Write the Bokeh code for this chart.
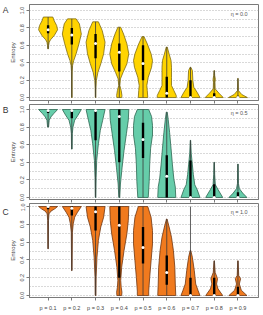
import numpy as np
from bokeh.plotting import figure
from bokeh.layouts import column
from bokeh.models import Range1d, FixedTicker, Label
from bokeh.embed import file_html
from bokeh.resources import INLINE

categories = ["p = 0.1", "p = 0.2", "p = 0.3", "p = 0.4", "p = 0.5",
              "p = 0.6", "p = 0.7", "p = 0.8", "p = 0.9"]
panel_letters = ["A", "B", "C"]
eta_labels = ["η = 0.0", "η = 0.5", "η = 1.0"]
y_ticks = [0.0, 0.2, 0.4, 0.6, 0.8, 1.0]
grid_levels = [0.0, 0.1, 0.2, 0.3, 0.4, 0.5, 0.6, 0.7, 0.8, 0.9, 1.0]

# ---- Panel A: density profiles (entropy level, relative width) ----
A_y = [
    [0.56, 0.60, 0.636, 0.663, 0.713, 0.778, 0.828, 0.88, 0.925],
    [0.0, 0.1, 0.2, 0.3, 0.368, 0.425, 0.502, 0.617, 0.73, 0.847, 0.904],
    [0.0, 0.1, 0.195, 0.29, 0.387, 0.502, 0.636, 0.77, 0.87],
    [0.0, 0.023, 0.08, 0.138, 0.214, 0.29, 0.387, 0.502, 0.617, 0.73, 0.808],
    [0.0, 0.08, 0.138, 0.233, 0.348, 0.425, 0.502, 0.617, 0.70],
    [0.0, 0.023, 0.08, 0.138, 0.233, 0.348, 0.425, 0.5, 0.58],
    [0.0, 0.06, 0.118, 0.195, 0.31, 0.348],
    [0.0, 0.05, 0.1, 0.176, 0.21, 0.255, 0.31],
    [0.0, 0.035, 0.08, 0.22],
]
A_w = [
    [0.04, 0.06, 0.12, 0.25, 0.65, 1.0, 0.9, 0.65, 0.5],
    [0.03, 0.03, 0.03, 0.04, 0.08, 0.2, 0.45, 0.75, 1.0, 0.8, 0.45],
    [0.03, 0.04, 0.08, 0.25, 0.55, 0.85, 1.0, 0.7, 0.3],
    [0.25, 0.28, 0.2, 0.06, 0.12, 0.4, 0.8, 1.0, 0.8, 0.45, 0.15],
    [0.5, 0.45, 0.4, 0.55, 0.9, 1.0, 0.85, 0.45, 0.1],
    [1.0, 1.0, 0.75, 0.5, 0.5, 0.5, 0.45, 0.25, 0.05],
    [1.0, 0.7, 0.35, 0.25, 0.2, 0.04],
    [0.95, 0.5, 0.1, 0.08, 0.12, 0.05, 0.02],
    [1.0, 0.4, 0.05, 0.02],
]
A_med = [0.78, 0.72, 0.62, 0.52, 0.39, 0.05, 0.0, 0.0, 0.0]
A_q1 = [0.74, 0.61, 0.45, 0.30, 0.20, 0.0, 0.0, 0.0, 0.0]
A_q3 = [0.83, 0.80, 0.73, 0.62, 0.60, 0.24, 0.20, 0.05, 0.02]
A_lo = [0.56, 0.0, 0.0, 0.0, 0.0, 0.0, 0.0, 0.0, 0.0]
A_hi = [0.925, 0.904, 0.87, 0.808, 0.70, 0.58, 0.348, 0.31, 0.22]

# ---- Panel B ----
B_y = [
    [0.80, 0.878, 0.916, 0.954, 1.0],
    [0.55, 0.725, 0.80, 0.878, 0.935, 1.0],
    [0.0, 0.23, 0.42, 0.61, 0.763, 0.878, 1.0],
    [0.0, 0.153, 0.344, 0.534, 0.725, 0.878, 1.0],
    [0.0, 0.18, 0.37, 0.56, 0.71, 0.82, 0.92, 1.0],
    [0.0, 0.12, 0.21, 0.37, 0.56, 0.74, 0.89, 0.97],
    [0.0, 0.09, 0.145, 0.26, 0.37, 0.5, 0.65],
    [0.0, 0.09, 0.145, 0.26, 0.40],
    [0.0, 0.05, 0.1, 0.16, 0.38],
]
B_w = [
    [0.05, 0.12, 0.3, 0.6, 1.0],
    [0.03, 0.05, 0.12, 0.3, 0.65, 1.0],
    [0.03, 0.06, 0.12, 0.3, 0.5, 0.75, 1.0],
    [0.05, 0.12, 0.3, 0.5, 0.75, 0.95, 1.0],
    [0.55, 0.65, 0.7, 0.8, 1.0, 1.0, 0.9, 0.6],
    [0.95, 0.9, 0.75, 0.6, 0.45, 0.3, 0.15, 0.05],
    [1.0, 0.7, 0.45, 0.3, 0.2, 0.08, 0.02],
    [0.9, 0.4, 0.12, 0.05, 0.02],
    [0.95, 0.5, 0.15, 0.05, 0.02],
]
B_med = [0.99, 0.99, 0.99, 0.92, 0.66, 0.24, 0.0, 0.0, 0.0]
B_q1 = [0.96, 0.90, 0.65, 0.40, 0.45, 0.0, 0.0, 0.0, 0.0]
B_q3 = [1.0, 1.0, 1.0, 1.0, 0.85, 0.48, 0.42, 0.15, 0.06]
B_lo = [0.80, 0.55, 0.0, 0.0, 0.0, 0.0, 0.0, 0.0, 0.0]
B_hi = [1.0, 1.0, 1.0, 1.0, 1.0, 0.97, 0.65, 0.40, 0.38]

# ---- Panel C ----
C_y = [
    [0.525, 0.843, 0.918, 0.948, 0.974, 1.0],
    [0.28, 0.712, 0.805, 0.88, 0.936, 1.0],
    [0.0, 0.21, 0.43, 0.62, 0.77, 0.88, 1.0],
    [0.0, 0.037, 0.094, 0.17, 0.318, 0.506, 0.693, 0.843, 1.0],
    [0.0, 0.05, 0.2, 0.39, 0.58, 0.73, 0.88, 1.0],
    [0.0, 0.13, 0.318, 0.506, 0.655, 0.77, 0.86],
    [0.0, 0.056, 0.13, 0.28, 0.43, 0.506],
    [0.0, 0.075, 0.13, 0.19, 0.26, 0.39],
    [0.0, 0.06, 0.13, 0.19, 0.225, 0.39],
]
C_w = [
    [0.02, 0.04, 0.1, 0.3, 0.7, 1.0],
    [0.02, 0.06, 0.15, 0.3, 0.6, 1.0],
    [0.04, 0.06, 0.15, 0.3, 0.55, 0.85, 1.0],
    [0.25, 0.28, 0.2, 0.15, 0.25, 0.5, 0.8, 0.95, 1.0],
    [0.6, 0.6, 0.7, 0.85, 1.0, 1.0, 0.85, 0.5],
    [0.95, 0.9, 0.85, 0.7, 0.5, 0.25, 0.03],
    [1.0, 0.8, 0.55, 0.4, 0.2, 0.03],
    [0.9, 0.4, 0.25, 0.35, 0.1, 0.02],
    [0.95, 0.35, 0.15, 0.28, 0.08, 0.02],
]
C_med = [1.0, 0.98, 0.94, 0.79, 0.54, 0.26, 0.0, 0.0, 0.0]
C_q1 = [0.97, 0.90, 0.73, 0.20, 0.36, 0.12, 0.0, 0.0, 0.0]
C_q3 = [1.0, 1.0, 1.0, 1.0, 0.77, 0.45, 0.20, 0.20, 0.10]
C_lo = [0.525, 0.28, 0.0, 0.0, 0.0, 0.0, 0.0, 0.0, 0.0]
C_hi = [1.0, 1.0, 1.0, 1.0, 1.0, 0.86, 1.0, 0.39, 0.39]

FONT = "Liberation Sans"
HALF = 0.4  # half of the maximum violin width, in category units
X_RANGE = (0.2165, 9.866)


def make_panel(k, ys, ws, med, q1, q3, lo, hi, fill, edge, yr, height,
               border_top, border_bottom, show_labels, eta_y, letter_drop):
    p = figure(width=263, height=height, output_backend="svg",
               toolbar_location=None,
               x_range=Range1d(*X_RANGE), y_range=Range1d(*yr),
               min_border_left=24, min_border_right=5,
               min_border_top=border_top, min_border_bottom=border_bottom)
    p.background_fill_color = "white"
    p.border_fill_color = "white"
    p.outline_line_color = "#7a7a7a"
    p.outline_line_width = 1

    pos = np.arange(1, len(categories) + 1)
    xs_all, ys_all = [], []
    for i, c in enumerate(pos):
        yy = np.array(ys[i])
        ww = np.array(ws[i]) * HALF
        xs_all.append(list(np.concatenate([c - ww, (c + ww)[::-1]])))
        ys_all.append(list(np.concatenate([yy, yy[::-1]])))
    p.patches(xs_all, ys_all, fill_color=fill, line_color=edge, line_width=0.8)
    p.segment(x0=pos, y0=lo, x1=pos, y1=hi, line_color="#3a3a3a", line_width=0.8)
    p.vbar(x=pos, bottom=q1, top=q3, width=0.1, fill_color="black",
           line_color=None)
    p.scatter(x=pos, y=med, size=3.0, fill_color="white", line_color=None)

    # grid
    p.xgrid.visible = False
    p.ygrid.ticker = FixedTicker(ticks=grid_levels)
    p.ygrid.grid_line_color = "#a0a0a0"
    p.ygrid.grid_line_dash = "1 2"
    p.ygrid.grid_line_width = 0.8

    # y axis
    ya = p.yaxis[0]
    ya.ticker = FixedTicker(ticks=y_ticks)
    ya.major_label_overrides = {t: f"{t:.1f}" for t in y_ticks}
    ya.major_label_orientation = "vertical"
    ya.major_label_text_font = FONT
    ya.major_label_text_font_size = "5.5px"
    ya.major_label_text_color = "#444444"
    ya.major_label_standoff = 2
    ya.major_tick_out = 3
    ya.major_tick_in = 0
    ya.minor_tick_out = 0
    ya.minor_tick_in = 0
    ya.axis_line_color = "#7a7a7a"
    ya.major_tick_line_color = "#7a7a7a"
    ya.axis_label = "Entropy"
    ya.axis_label_text_font = FONT
    ya.axis_label_text_font_size = "6px"
    ya.axis_label_text_font_style = "normal"
    ya.axis_label_text_color = "#444444"
    ya.axis_label_standoff = 2

    # x axis
    xa = p.xaxis[0]
    xa.axis_line_color = "#7a7a7a"
    xa.major_tick_line_color = "#7a7a7a"
    xa.minor_tick_line_color = "#7a7a7a"
    xa.major_tick_in = 0
    xa.minor_tick_in = 0
    if show_labels:
        xa.ticker = FixedTicker(ticks=list(pos))
        xa.major_tick_out = 3
        xa.minor_tick_out = 0
        xa.major_label_overrides = {int(c): lab for c, lab in zip(pos, categories)}
        xa.major_label_text_font = FONT
        xa.major_label_text_font_size = "5.5px"
        xa.major_label_text_color = "#444444"
        xa.major_label_standoff = 4
    else:
        # tick marks only (no labels) between the stacked panels
        xa.ticker = FixedTicker(ticks=[], minor_ticks=list(pos))
        xa.major_tick_out = 0
        xa.minor_tick_out = 3

    # panel letter (in the left side panel) and eta annotation
    frame_h = height - border_top - border_bottom
    p.add_layout(Label(x=5, y=frame_h - letter_drop, x_units="screen",
                       y_units="screen", text=panel_letters[k],
                       text_font=FONT, text_font_size="8.5px",
                       text_color="#333333", text_align="center",
                       text_baseline="top"), "left")
    p.add_layout(Label(x=9.41, y=eta_y, text=eta_labels[k],
                       text_font=FONT, text_font_size="5.5px",
                       text_color="#555555", text_align="right",
                       text_baseline="middle"))
    return p


pA = make_panel(0, A_y, A_w, A_med, A_q1, A_q3, A_lo, A_hi,
                "#FFD400", "#7d6a10", (-0.034, 1.069), 104, 4, 4, False,
                0.955, 0)
pB = make_panel(1, B_y, B_w, B_med, B_q1, B_q3, B_lo, B_hi,
                "#66CDAA", "#2c6650", (-0.023, 1.057), 99, 0, 4, False,
                0.955, 0)
pC = make_panel(2, C_y, C_w, C_med, C_q1, C_q3, C_lo, C_hi,
                "#F07A1E", "#6e3510", (-0.022, 1.034), 112, 0, 18, True,
                0.935, 3)

layout = column(pA, pB, pC, spacing=0)
open("out.html", "w").write(file_html(layout, INLINE))
